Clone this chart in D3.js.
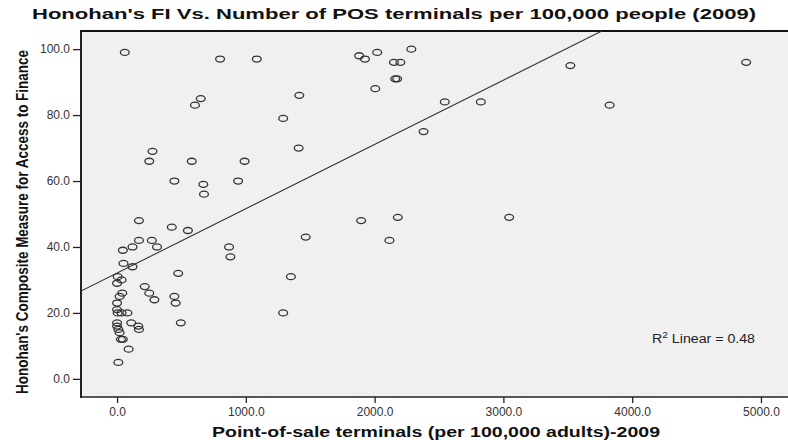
<!DOCTYPE html>
<html>
<head>
<meta charset="utf-8">
<script src="https://cdn.jsdelivr.net/npm/d3@7"></script>
<style>
  html, body { margin: 0; padding: 0; background: #fff; }
  svg { display: block; }
</style>
</head>
<body>
<svg id="chart" width="788" height="440"></svg>
<script>
// Point-of-sale terminals per 100,000 adults (2009), one entry per country
const posTerminals = [
  60, 800, 1085, 650, 605, 1415, 1290, 275, 250, 580,
  990, 1410, 445, 670, 675, 940, 170, 425, 550, 1465,
  45, 120, 170, 270, 310, 870, 880, 50, 120, 5,
  0, 35, 475, 1350, 215, 250, 290, 445, 455, 40,
  20, 0, 0, 5, 35, 80, 1290, 495, 0, 0,
  10, 20, 110, 165, 170, 30, 45, 90, 10, 1880,
  1925, 2020, 2285, 2150, 2200, 2160, 2175, 2005, 2545, 2825,
  2380, 1895, 2180, 3045, 2115, 3520, 3825, 4885
];
// Honohan's composite measure for access to finance, same order
const fiScores = [
  99, 97, 97, 85, 83, 86, 79, 69, 66, 66,
  66, 70, 60, 59, 56, 60, 48, 46, 45, 43,
  39, 40, 42, 42, 40, 40, 37, 35, 34, 31,
  29, 30, 32, 31, 28, 26, 24, 25, 23, 26,
  25, 23, 21, 20, 20, 20, 20, 17, 17, 16,
  15, 14, 17, 16, 15, 12, 12, 9, 5, 98,
  97, 99, 100, 96, 96, 91, 91, 88, 84, 84,
  75, 48, 49, 49, 42, 95, 83, 96
];

const xTicks = [0, 1000, 2000, 3000, 4000, 5000];
const yTicks = [0, 20, 40, 60, 80, 100];

// Linear fit line: FI = intercept + slope * POS
const fitIntercept = 32.1;
const fitSlope = 0.0195;
const fitR2 = 0.48;

const svg = d3.select("#chart");
const plot = { left: 81, top: 31, right: 788, bottom: 397 };

const x = d3.scaleLinear().domain([-280, 5210]).range([plot.left, plot.right]);
const y = d3.scaleLinear().domain([-5.5, 105.5]).range([plot.bottom, plot.top]);

// Title
svg.append("text")
  .attr("x", 394).attr("y", 19)
  .attr("text-anchor", "middle")
  .attr("font-family", "Liberation Sans, Arial, sans-serif")
  .attr("font-weight", "bold")
  .attr("font-size", 15)
  .attr("fill", "#111")
  .attr("textLength", 724)
  .attr("lengthAdjust", "spacingAndGlyphs")
  .text("Honohan's FI Vs. Number of POS terminals per 100,000 people (2009)");

// Plot background
svg.append("rect")
  .attr("x", plot.left).attr("y", plot.top)
  .attr("width", plot.right - plot.left)
  .attr("height", plot.bottom - plot.top)
  .attr("fill", "#f0f0f0");

svg.append("clipPath").attr("id", "plotClip")
  .append("rect")
  .attr("x", plot.left).attr("y", plot.top)
  .attr("width", plot.right - plot.left)
  .attr("height", plot.bottom - plot.top);

// Axes
const yAxis = svg.append("g")
  .attr("transform", `translate(${plot.left},0)`)
  .call(d3.axisLeft(y).tickValues(yTicks).tickFormat(d3.format(".1f")).tickSize(8).tickPadding(3));
const xAxis = svg.append("g")
  .attr("transform", `translate(0,${plot.bottom})`)
  .call(d3.axisBottom(x).tickValues(xTicks).tickFormat(d3.format(".1f")).tickSize(6).tickPadding(4));

[xAxis, yAxis].forEach(g => {
  g.select(".domain").remove();
  g.selectAll(".tick line").attr("stroke", "#222").attr("stroke-width", 1.3);
  g.selectAll(".tick text")
    .attr("font-family", "Liberation Sans, Arial, sans-serif")
    .attr("font-size", 12)
    .attr("fill", "#333");
});

// Frame lines: left, top, bottom
svg.append("line")
  .attr("x1", plot.left).attr("x2", plot.left)
  .attr("y1", plot.top - 1).attr("y2", plot.bottom + 1)
  .attr("stroke", "#222").attr("stroke-width", 2);
svg.append("line")
  .attr("x1", plot.left).attr("x2", plot.right)
  .attr("y1", plot.top).attr("y2", plot.top)
  .attr("stroke", "#111").attr("stroke-width", 2);
svg.append("line")
  .attr("x1", plot.left).attr("x2", plot.right)
  .attr("y1", plot.bottom).attr("y2", plot.bottom)
  .attr("stroke", "#222").attr("stroke-width", 1.5);

// Fit line
const xDom = x.domain();
svg.append("line")
  .attr("clip-path", "url(#plotClip)")
  .attr("x1", x(xDom[0])).attr("y1", y(fitIntercept + fitSlope * xDom[0]))
  .attr("x2", x(xDom[1])).attr("y2", y(fitIntercept + fitSlope * xDom[1]))
  .attr("stroke", "#333").attr("stroke-width", 1.1);

// Points
svg.append("g")
  .selectAll("ellipse")
  .data(posTerminals.map((v, i) => [v, fiScores[i]]))
  .join("ellipse")
  .attr("cx", d => x(d[0]))
  .attr("cy", d => y(d[1]))
  .attr("rx", 4.4)
  .attr("ry", 3)
  .attr("fill", "none")
  .attr("stroke", "#333")
  .attr("stroke-width", 1.3);

// R squared label
const r2 = svg.append("text")
  .attr("x", 652).attr("y", 343)
  .attr("font-family", "Liberation Sans, Arial, sans-serif")
  .attr("font-size", 12.5)
  .attr("fill", "#222")
  .attr("textLength", 103)
  .attr("lengthAdjust", "spacingAndGlyphs");
r2.append("tspan").text("R");
r2.append("tspan").attr("font-size", 9).attr("dy", -5).text("2");
r2.append("tspan").attr("dy", 5).text(" Linear = " + fitR2.toFixed(2));

// Axis titles
svg.append("text")
  .attr("x", 436).attr("y", 437)
  .attr("text-anchor", "middle")
  .attr("font-family", "Liberation Sans, Arial, sans-serif")
  .attr("font-weight", "bold")
  .attr("font-size", 14)
  .attr("fill", "#111")
  .attr("textLength", 448)
  .attr("lengthAdjust", "spacingAndGlyphs")
  .text("Point-of-sale terminals (per 100,000 adults)-2009");

svg.append("text")
  .attr("transform", "translate(28,222) rotate(-90)")
  .attr("text-anchor", "middle")
  .attr("font-family", "Liberation Sans Narrow, Liberation Sans, Arial, sans-serif")
  .attr("font-weight", "bold")
  .attr("font-size", 16)
  .attr("fill", "#111")
  .attr("textLength", 344)
  .attr("lengthAdjust", "spacingAndGlyphs")
  .text("Honohan's Composite Measure for Access to Finance");
</script>
</body>
</html>
